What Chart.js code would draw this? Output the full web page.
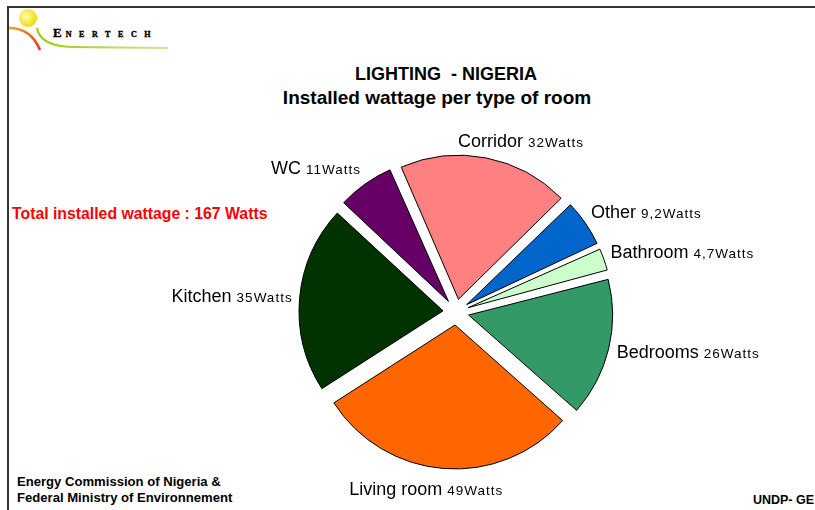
<!DOCTYPE html>
<html>
<head>
<meta charset="utf-8">
<script src="https://cdn.jsdelivr.net/npm/chart.js@4.4.0/dist/chart.umd.min.js"></script>
<style>
  html, body { margin: 0; padding: 0; background: #fff; }
  body { width: 815px; height: 510px; position: relative; overflow: hidden; font-family: "Liberation Sans", Arial, sans-serif; }
  #frameTop { position: absolute; left: 7px; top: 6px; width: 808px; height: 2px; background: #333; }
  #frameLeft { position: absolute; left: 7px; top: 6px; width: 2px; height: 504px; background: #333; }
  .txt { position: absolute; white-space: pre; font-weight: bold; }
  .ctr { width: 400px; text-align: center; color: #000; }
  #title1 { left: 246px; top: 64px; font-size: 18px; }
  #title2 { left: 237px; top: 87px; font-size: 19px; }
  #total { left: 12px; top: 205px; font-size: 15.8px; color: #ff0000; }
  #foot { left: 17px; top: 474px; font-size: 13.1px; line-height: 16px; color: #000; }
  #undp { right: 1px; top: 493px; font-size: 12.5px; color: #000; }
  canvas { position: absolute; left: 0; top: 0; }
</style>
</head>
<body>
<div id="frameTop"></div>
<div id="frameLeft"></div>
<svg style="position:absolute;left:0;top:0" width="180" height="60">
  <defs>
    <radialGradient id="sun" cx="0.4" cy="0.4" r="0.65">
      <stop offset="0" stop-color="#ffffb0"/>
      <stop offset="1" stop-color="#f2d400"/>
    </radialGradient>
    <linearGradient id="orng" x1="0" y1="0" x2="1" y2="1">
      <stop offset="0" stop-color="#ffa020"/>
      <stop offset="1" stop-color="#e83020"/>
    </linearGradient>
    <linearGradient id="grn" x1="0" y1="0" x2="1" y2="0">
      <stop offset="0" stop-color="#99cc00"/>
      <stop offset="1" stop-color="#cce8a0"/>
    </linearGradient>
  </defs>
  <circle cx="28" cy="18" r="9" fill="url(#sun)"/>
  <path d="M9 28 Q31 28 40 50" stroke="url(#orng)" stroke-width="2.5" fill="none"/>
  <path d="M37 28 Q40 46 72 47 L168 48" stroke="url(#grn)" stroke-width="2" fill="none"/>
  <text x="53" y="37" font-family="Liberation Serif" font-weight="900" fill="#000" stroke="#000" stroke-width="0.4"><tspan font-size="13">E</tspan><tspan font-size="8" dx="4" letter-spacing="7.6">NERTECH</tspan></text>
</svg>
<div id="title1" class="txt ctr">LIGHTING  - NIGERIA</div>
<div id="title2" class="txt ctr">Installed wattage per type of room</div>
<div id="total" class="txt">Total installed wattage : 167 Watts</div>
<div id="foot" class="txt">Energy Commission of Nigeria &amp;
Federal Ministry of Environnement</div>
<div id="undp" class="txt">UNDP- GE</div>
<canvas id="pie" width="815" height="510"></canvas>
<script>
// rooms, clockwise from the top
const rooms = ['Corridor', 'Other', 'Bathroom', 'Bedrooms', 'Living room', 'Kitchen', 'WC'];
const watts = [32, 9.2, 4.7, 26, 49, 35, 11];
const unit = 'Watts';
const roomColors = ['#ff8080', '#0066cc', '#ccffcc', '#339966', '#ff6600', '#003300', '#660066'];

const pieRadius = 144;
const explode = 13;   // px each slice is pulled out

function fmtW(v) {
    return String(v).replace('.', ',') + unit;
}
function clamp01(v) { return Math.max(0, Math.min(1, v)); }

// Chart.js grows thin exploded slices a little, undo that so all share one radius
const keepRadius = {
    id: 'keepRadius',
    beforeDatasetsDraw(chart) {
        chart.getDatasetMeta(0).data.forEach(arc => {
            const fix = 1 - Math.sin(Math.min(Math.PI, arc.circumference));
            arc.outerRadius = pieRadius - (arc.options.offset / 4) * fix;
        });
    }
};

const nameFont = '18px "Liberation Sans", Arial';
const valFont = '13.5px "Liberation Sans", Arial';

const roomLabels = {
    id: 'roomLabels',
    afterDatasetsDraw(chart) {
        const ctx = chart.ctx;
        const meta = chart.getDatasetMeta(0);
        ctx.save();
        ctx.fillStyle = '#000';
        ctx.textAlign = 'left';
        ctx.textBaseline = 'alphabetic';
        meta.data.forEach((arc, i) => {
            const mid = (arc.startAngle + arc.endAngle) / 2;
            const dx = Math.cos(mid), dy = Math.sin(mid);
            const r = pieRadius + arc.options.offset / 4 + 7 + 6 * Math.max(0, dy);
            const ax = arc.x + dx * r, ay = arc.y + dy * r;
            const name = rooms[i] + ' ';
            const val = fmtW(watts[i]);
            ctx.font = nameFont;
            ctx.letterSpacing = '0px';
            const w1 = ctx.measureText(name).width;
            ctx.font = valFont;
            ctx.letterSpacing = '1px';
            const w2 = ctx.measureText(val).width;
            const w = w1 + w2, h = 18;
            const left = ax - clamp01(0.5 - dx * 1.4) * w;
            const top = ay - clamp01(0.5 - dy * 0.6) * h;
            ctx.font = nameFont;
            ctx.letterSpacing = '0px';
            ctx.fillText(name, left, top + 14);
            ctx.font = valFont;
            ctx.letterSpacing = '1px';
            ctx.fillText(val, left + w1, top + 14);
        });
        ctx.restore();
    }
};

new Chart(document.getElementById('pie').getContext('2d'), {
    type: 'pie',
    data: {
        labels: rooms,
        datasets: [{
            data: watts,
            backgroundColor: roomColors,
            borderColor: '#000',
            borderWidth: 1,
            offset: explode * 4
        }]
    },
    options: {
        responsive: false,
        animation: false,
        rotation: -23.5,
        radius: pieRadius,
        layout: { padding: { left: 296, right: 199, top: 152, bottom: 38 } },
        plugins: {
            legend: { display: false },
            tooltip: { enabled: false }
        }
    },
    plugins: [keepRadius, roomLabels]
});
</script>
</body>
</html>
